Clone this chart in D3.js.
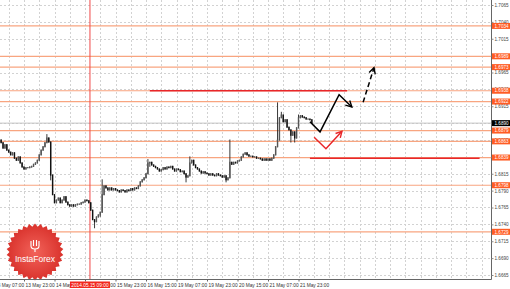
<!DOCTYPE html>
<html>
<head>
<meta charset="utf-8">
<script src="https://cdn.jsdelivr.net/npm/d3@7"></script>
<style>
  html, body { margin: 0; padding: 0; background: #fff; }
  svg { display: block; font-family: "Liberation Sans", Arial, sans-serif; }
</style>
</head>
<body>
<svg id="chart" width="510" height="289"></svg>
<script>
// GBP/USD H1 - forecast sketch

// time axis labels, one every 16 bars
const timeLabels = ["13 May 07:00", "13 May 23:00", "14 May 15:00", "15 May 07:00", "15 May 23:00",
    "16 May 15:00", "19 May 07:00", "19 May 23:00", "20 May 15:00", "21 May 07:00", "21 May 23:00"];
const cursorLabel = "2014.05.15 09:00";
const cursorBar = 50.6;

// hourly closes, first bar is bar #3
const firstBar = 3;
const firstOpen = 1.6868;
const closes = [
    1.6865, 1.6861, 1.6853, 1.6858, 1.6850, 1.6847, 1.6843, 1.6846, 1.6838, 1.6835,
    1.6840, 1.6831, 1.6825, 1.6822, 1.6824, 1.6824, 1.6825, 1.6826, 1.6829, 1.6831,
    1.6835, 1.6843, 1.6850, 1.6855, 1.6861, 1.6868, 1.6862, 1.6813, 1.6784, 1.6772,
    1.6776, 1.6779, 1.6772, 1.6776, 1.6781, 1.6773, 1.6769, 1.6767, 1.6769, 1.6767,
    1.6769, 1.6770, 1.6770, 1.6772, 1.6773, 1.6776, 1.6775, 1.6772, 1.6761, 1.6747,
    1.6744, 1.6751, 1.6754, 1.6758, 1.6784, 1.6797, 1.6794, 1.6791, 1.6794, 1.6791,
    1.6793, 1.6791, 1.6790, 1.6788, 1.6791, 1.6790, 1.6788, 1.6791, 1.6790, 1.6793,
    1.6791, 1.6794, 1.6793, 1.6797, 1.6803, 1.6806, 1.6809, 1.6815, 1.6831, 1.6832,
    1.6828, 1.6826, 1.6824, 1.6822, 1.6819, 1.6821, 1.6824, 1.6822, 1.6825, 1.6824,
    1.6826, 1.6822, 1.6819, 1.6822, 1.6821, 1.6818, 1.6819, 1.6815, 1.6810, 1.6812,
    1.6831, 1.6835, 1.6828, 1.6824, 1.6822, 1.6819, 1.6816, 1.6818, 1.6816, 1.6815,
    1.6813, 1.6815, 1.6813, 1.6812, 1.6815, 1.6813, 1.6812, 1.6810, 1.6812, 1.6806,
    1.6809, 1.6832, 1.6829, 1.6832, 1.6831, 1.6834, 1.6835, 1.6840, 1.6844, 1.6846,
    1.6843, 1.6841, 1.6841, 1.6840, 1.6840, 1.6838, 1.6838, 1.6837, 1.6835, 1.6837,
    1.6835, 1.6837, 1.6835, 1.6838, 1.6843, 1.6855, 1.6865, 1.6898, 1.6902, 1.6892,
    1.6895, 1.6884, 1.6880, 1.6872, 1.6877, 1.6868, 1.6883, 1.6898, 1.6901, 1.6899,
    1.6898, 1.6896, 1.6896, 1.6895, 1.6890
];
// long wicks [bar, price]
const wickHighs = [[28, 1.6873], [57, 1.6806], [81, 1.6836], [103, 1.6840], [124, 1.6865],
    [149, 1.6920], [151, 1.6906], [160, 1.6902]];
const wickLows = [[30, 1.6806], [53, 1.6735], [56, 1.6752], [82, 1.6826], [101, 1.6803],
    [122, 1.6803], [156, 1.6862], [158, 1.6862]];

const currentPrice = 1.6890;
const priceTicks = d3.range(0, 17).map(k => +(1.7065 - k * 0.0025).toFixed(4));
const levels = [1.7034, 1.6989, 1.6973, 1.6938, 1.6922, 1.6879, 1.6863, 1.6839, 1.6798, 1.6729];

// red support/resistance segments [fromBar, toBar, price]
const redLines = [[82, 185.5, 1.6938], [166, 255, 1.6838]];

// forecast paths [bar, price]
const mainPath = [[166, 1.6892], [171.3, 1.6877], [181.3, 1.6932], [188, 1.6914]];
const dashPath = [[193.9, 1.6921], [199.6, 1.6972]];
const altPath = [[168.2, 1.6869], [174.4, 1.6852], [182.8, 1.6878]];

const svg = d3.select("#chart");
const plotRight = 491, plotBottom = 279;

const x = d3.scaleLinear().domain([0, 160]).range([-6.5, 298.5]);
const y = d3.scaleLinear().domain([1.6665, 1.7065]).range([275, 5]);

const defs = svg.append("defs");
defs.append("clipPath").attr("id", "plot")
    .append("rect").attr("width", plotRight).attr("height", plotBottom);

["black", "#e8262a"].forEach((c, i) => {
    defs.append("marker")
        .attr("id", "head" + i)
        .attr("markerUnits", "userSpaceOnUse")
        .attr("viewBox", "-8 -5 10 10")
        .attr("markerWidth", 10).attr("markerHeight", 10)
        .attr("orient", "auto")
        .append("path")
        .attr("d", "M-6,-3.2L0,0L-6,3.2")
        .attr("fill", "none").attr("stroke", c).attr("stroke-width", 1.4);
});

const plot = svg.append("g").attr("clip-path", "url(#plot)");

// grid
plot.selectAll(".hgrid").data(priceTicks).enter().append("line")
    .attr("x1", 0).attr("x2", plotRight)
    .attr("y1", d => Math.round(y(d)) + 0.5).attr("y2", d => Math.round(y(d)) + 0.5)
    .attr("stroke", "#d2d2d2").attr("stroke-dasharray", "2,2");

const vgrid = d3.range(0, 260, 8);
plot.selectAll(".vgrid").data(vgrid).enter().append("line")
    .attr("x1", d => Math.round(x(d)) + 0.5).attr("x2", d => Math.round(x(d)) + 0.5)
    .attr("y1", 0).attr("y2", plotBottom)
    .attr("stroke", "#d2d2d2").attr("stroke-dasharray", "2,2");

// current price line
plot.append("line")
    .attr("x1", 0).attr("x2", plotRight)
    .attr("y1", y(currentPrice)).attr("y2", y(currentPrice))
    .attr("stroke", "#c4c4c4");

// level lines
plot.selectAll(".level").data(levels).enter().append("line")
    .attr("x1", 0).attr("x2", plotRight)
    .attr("y1", d => y(d)).attr("y2", d => y(d))
    .attr("stroke", "#f8a580").attr("stroke-width", 1.2);

// cursor line
plot.append("line")
    .attr("x1", x(cursorBar)).attr("x2", x(cursorBar))
    .attr("y1", 0).attr("y2", plotBottom)
    .attr("stroke", "#f04848");

// candles
const bars = closes.map((c, k) => {
    const i = firstBar + k;
    const o = k === 0 ? firstOpen : closes[k - 1];
    return { i, o, c, hi: Math.max(o, c), lo: Math.min(o, c) };
});
wickHighs.forEach(([i, p]) => { const b = bars[i - firstBar]; b.hi = Math.max(b.hi, p); });
wickLows.forEach(([i, p]) => { const b = bars[i - firstBar]; b.lo = Math.min(b.lo, p); });

const candles = plot.append("g");
candles.selectAll(".wick").data(bars).enter().append("line")
    .attr("x1", d => x(d.i)).attr("x2", d => x(d.i))
    .attr("y1", d => y(d.hi) - 0.5).attr("y2", d => y(d.lo) + 0.5)
    .attr("stroke", "#222").attr("stroke-width", 0.9);
candles.selectAll(".body").data(bars).enter().append("rect")
    .attr("x", d => x(d.i) - 0.7).attr("width", 1.4)
    .attr("y", d => Math.min(y(d.o), y(d.c)) - 0.5)
    .attr("height", d => Math.abs(y(d.o) - y(d.c)) + 1)
    .attr("fill", d => d.c >= d.o ? "#555" : "#111");

// red segments
plot.selectAll(".red").data(redLines).enter().append("line")
    .attr("x1", d => x(d[0])).attr("x2", d => x(d[1]))
    .attr("y1", d => y(d[2])).attr("y2", d => y(d[2]))
    .attr("stroke", "#e8262a").attr("stroke-width", 1.6);

// forecast arrows
const line = d3.line().x(d => x(d[0])).y(d => y(d[1]));
plot.append("path").attr("d", line(mainPath))
    .attr("fill", "none").attr("stroke", "black").attr("stroke-width", 1.5)
    .attr("marker-end", "url(#head0)");
plot.append("path").attr("d", line(dashPath))
    .attr("fill", "none").attr("stroke", "black").attr("stroke-width", 1.5)
    .attr("stroke-dasharray", "5,3")
    .attr("marker-end", "url(#head0)");
plot.append("path").attr("d", line(altPath))
    .attr("fill", "none").attr("stroke", "#e8262a").attr("stroke-width", 1.5)
    .attr("marker-end", "url(#head1)");

// logo badge
const logo = svg.append("g").attr("transform", "translate(35,252)");
const grad = defs.append("radialGradient").attr("id", "badge");
grad.append("stop").attr("offset", "0%").attr("stop-color", "#f2635a");
grad.append("stop").attr("offset", "100%").attr("stop-color", "#d9322c");
const spikes = 30;
const star = d3.range(spikes * 2).map(k => {
    const a = Math.PI * k / spikes;
    const r = k % 2 ? 25.5 : 28.5;
    return [Math.sin(a) * r, -Math.cos(a) * r];
});
logo.append("path").attr("d", d3.line()(star) + "Z").attr("fill", "url(#badge)");
logo.append("path")
    .attr("d", "M-4,-11L-4,-6Q-4,-3 0,-3Q4,-3 4,-6L4,-11M-1.5,-12L-1.5,-6M1.5,-12L1.5,-6M0,-3L0,0")
    .attr("fill", "none").attr("stroke", "#fff").attr("stroke-width", 1.1);
logo.append("text").attr("y", 10).attr("text-anchor", "middle")
    .attr("fill", "#fff").attr("font-size", 8.5).text("InstaForex");

// axes frame
svg.append("line").attr("x1", plotRight + 0.5).attr("x2", plotRight + 0.5)
    .attr("y1", 0).attr("y2", plotBottom + 0.5).attr("stroke", "#666");
svg.append("line").attr("x1", 0).attr("x2", plotRight + 0.5)
    .attr("y1", plotBottom + 0.5).attr("y2", plotBottom + 0.5).attr("stroke", "#666");

// price axis
const yAxis = svg.append("g").attr("transform", `translate(${plotRight + 0.5},0)`)
    .call(d3.axisRight(y).tickValues(priceTicks).tickSize(2).tickFormat(d3.format(".4f")));
yAxis.select(".domain").remove();
yAxis.selectAll("line").attr("stroke", "#888");
yAxis.selectAll("text").attr("x", 3).attr("font-size", 4.6).attr("fill", "#444")
    .attr("font-family", "Liberation Sans, Arial, sans-serif");

const boxes = svg.append("g");
const boxData = levels.map(v => ({ v, fill: "#ff5b24" })).concat([{ v: currentPrice, fill: "#000" }]);
boxes.selectAll("rect").data(boxData).enter().append("rect")
    .attr("x", plotRight + 1).attr("width", 19)
    .attr("y", d => y(d.v) - 3).attr("height", 6)
    .attr("fill", d => d.fill);
boxes.selectAll("text").data(boxData).enter().append("text")
    .attr("x", plotRight + 3.5).attr("y", d => y(d.v) + 1.7)
    .attr("font-size", 4.6).attr("fill", "#fff").text(d => d.v.toFixed(4));

// time axis
const tickBars = timeLabels.map((t, k) => k * 16);
const xAxis = svg.append("g").attr("transform", `translate(0,${plotBottom + 0.5})`)
    .call(d3.axisBottom(x).tickValues(tickBars).tickSize(2).tickFormat((d, k) => timeLabels[k]));
xAxis.select(".domain").remove();
xAxis.selectAll("line").attr("stroke", "#666");
xAxis.selectAll("text").attr("text-anchor", "start").attr("dx", 1).attr("y", 4)
    .attr("font-size", 4.8).attr("fill", "#333")
    .attr("font-family", "Liberation Sans, Arial, sans-serif");

// cursor time box
const cx = x(cursorBar);
svg.append("rect").attr("x", cx - 20).attr("y", plotBottom + 2.5).attr("width", 40).attr("height", 6.5)
    .attr("fill", "#f2281e");
svg.append("text").attr("x", cx).attr("y", plotBottom + 7.7).attr("text-anchor", "middle")
    .attr("font-size", 4.8).attr("fill", "#fff").text(cursorLabel);
</script>
</body>
</html>
